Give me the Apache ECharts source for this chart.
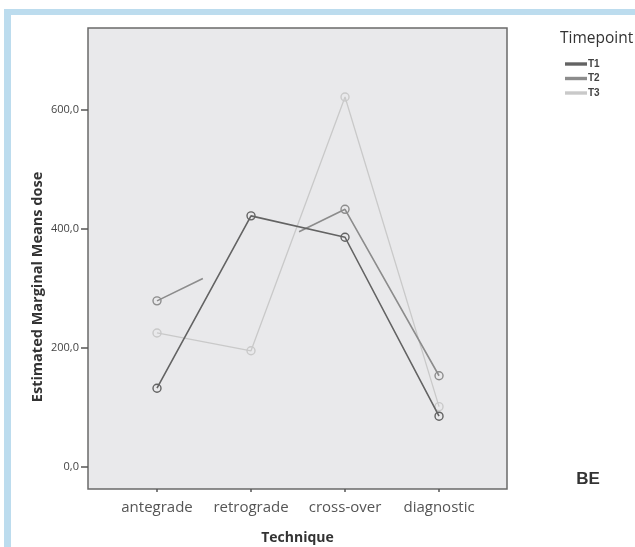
<!DOCTYPE html>
<html>
<head>
<meta charset="utf-8">
<script src="https://cdn.jsdelivr.net/npm/echarts@6/dist/echarts.min.js"></script>
<style>
html,body{margin:0;padding:0;background:#fff;}
#c{width:635px;height:547px;}
</style>
</head>
<body>
<div id="c"></div>
<script>
const categories = ['antegrade', 'retrograde', 'cross-over', 'diagnostic'];
const seriesNames = ['T1', 'T2', 'T3'];
const t1 = [132, 422, 386, 85];
const t2 = [279, null, 433, 153];
const t3 = [225, 195, 622, 101];
const yTicks = [0, 200, 400, 600];
const xTicks = [0, 1, 2, 3];

const colors = ['#636363', '#8c8c8c', '#c9c9c9'];
const widths = [1.6, 1.6, 1.3];

function pairs(arr) { return arr.map((v, i) => [i, v]); }

const chart = echarts.init(document.getElementById('c'));
const valuesList = [t1, t2, t3];

const series = seriesNames.map((name, k) => ({
  name: name,
  type: 'line',
  data: pairs(valuesList[k]),
  connectNulls: k === 1,
  symbol: 'circle',
  symbolSize: 8,
  showSymbol: true,
  z: 10 - k,
  lineStyle: { color: colors[k], width: widths[k], type: k === 1 ? [51, 107, 10000] : 'solid' },
  itemStyle: { color: 'rgba(0,0,0,0)', borderColor: colors[k], borderWidth: 1.4 },
  emphasis: { disabled: true },
  animation: false
}));

chart.setOption({
  backgroundColor: '#ffffff',
  animation: false,
  grid: {
    left: 88, top: 28, width: 419, height: 461,
    outerBoundsMode: 'none',
    containLabel: false,
    show: true, backgroundColor: '#e9e9eb', borderColor: '#6a6a6a', borderWidth: 1.5
  },
  xAxis: {
    type: 'value',
    min: -0.734, max: 3.723,
    name: 'Technique',
    nameLocation: 'middle',
    nameGap: 42,
    nameTextStyle: { fontFamily: 'Open Sans', fontWeight: 'bold', fontSize: 14, color: '#333' },
    axisLine: { show: false, onZero: false },
    splitLine: { show: false },
    axisTick: { show: true, customValues: xTicks, length: 3, lineStyle: { color: '#555', width: 1.5 } },
    axisLabel: {
      customValues: xTicks, margin: 11,
      fontFamily: 'Open Sans', fontSize: 15, color: '#555',
      formatter: v => categories[Math.round(v)]
    }
  },
  yAxis: {
    type: 'value',
    min: -37.5, max: 738,
    axisLine: { show: false, onZero: false },
    splitLine: { show: false },
    axisTick: { show: true, customValues: yTicks, length: 7, lineStyle: { color: '#555', width: 1.5 } },
    axisLabel: {
      customValues: yTicks, margin: 9,
      fontFamily: 'Open Sans', fontSize: 11, color: '#444',
      formatter: v => v.toFixed(1).replace('.', ',')
    }
  },
  legend: {
    data: seriesNames,
    orient: 'vertical',
    left: 565, top: 58,
    padding: 0,
    icon: 'rect',
    itemWidth: 20, itemHeight: 1.4,
    itemGap: 2.5,
    selectedMode: false,
    textStyle: { fontFamily: 'Liberation Sans Narrow, Liberation Sans', fontWeight: 'bold', fontSize: 10, color: '#444', lineHeight: 12, padding: [0, 0, 0, -3] }
  },
  graphic: [
    { type: 'rect', shape: { x: 4, y: 9, width: 631, height: 6 }, style: { fill: '#bcdcee' }, z: -10 },
    { type: 'rect', shape: { x: 4, y: 9, width: 7, height: 538 }, style: { fill: '#bcdcee' }, z: -10 },
    { type: 'text', x: 560, y: 39, style: { text: 'Timepoint', font: '15.5px "Open Sans"', fill: '#333', verticalAlign: 'middle' } },
    { type: 'text', x: 588, y: 479, style: { text: 'BE', font: 'bold 17px "Liberation Sans"', fill: '#333', align: 'center', verticalAlign: 'middle' } },
    { type: 'text', x: 38, y: 287, rotation: Math.PI / 2, style: { text: 'Estimated Marginal Means dose', font: 'bold 14.5px "Open Sans"', fill: '#333', align: 'center', verticalAlign: 'middle' } }
  ],
  series: series
});
</script>
</body>
</html>
